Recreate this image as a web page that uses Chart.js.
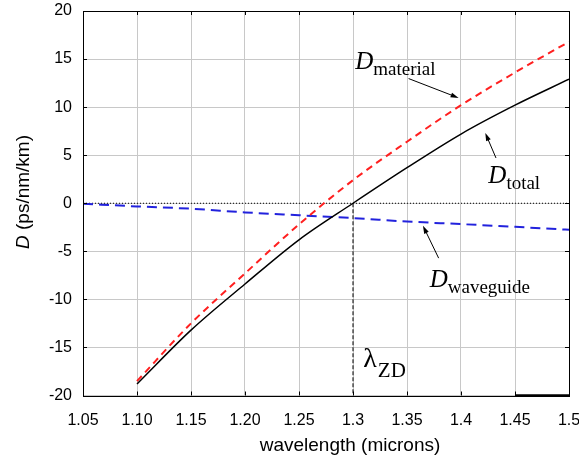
<!DOCTYPE html>
<html>
<head>
<meta charset="utf-8">
<script src="https://cdn.jsdelivr.net/npm/chart.js@4"></script>
<style>
html, body { margin: 0; padding: 0; background: #fff; }
</style>
</head>
<body>
<canvas id="dispChart" width="579" height="461"></canvas>
<script>
// wavelengths (microns) and dispersion values
let wavelengths = [1.10, 1.15, 1.20, 1.25, 1.30, 1.35, 1.40, 1.45, 1.50]
let dMaterial = [-18.5, -12.5, -7.3, -2.2, 2.4, 6.4, 10.2, 13.6, 16.8]
let dTotal = [-18.8, -13.2, -8.4, -3.8, 0, 3.7, 7.2, 10.2, 12.9]

let wgWavelengths = [1.05, 1.10, 1.15, 1.20, 1.25, 1.30, 1.35, 1.40, 1.45, 1.50]
let dWaveguide = [-0.05, -0.33, -0.57, -0.95, -1.25, -1.54, -1.9, -2.17, -2.45, -2.76]

let zeroX = [1.05, 1.5]
let zeroY = [0, 0]
let zdX = [1.30, 1.30]
let zdY = [0, -20]
let segX = [1.45, 1.5]
let segY = [-20, -20]

let xTickLabels = ['1.05', '1.10', '1.15', '1.20', '1.25', '1.3', '1.35', '1.4', '1.45', '1.5']

// text notes, placed in data units
let notes = [
    { x: 1.302, y: 14.0, sub: 'material' },
    { x: 1.4253, y: 2.1, sub: 'total' },
    { x: 1.371, y: -8.7, sub: 'waveguide' }
]
let arrows = [
    [1.3515, 12.97, 1.3978, 10.96],
    [1.4324, 4.71, 1.4225, 7.31],
    [1.3793, -5.71, 1.3648, -2.34]
]
let zdNote = { x: 1.3095, y: -17.0 }

function pts(xs, ys) {
    return xs.map(function (v, i) { return { x: v, y: ys[i] } })
}

let overlay = {
    id: 'overlay',
    afterDatasetsDraw(chart) {
        let ctx = chart.ctx
        let a = chart.chartArea
        let x = chart.scales.x
        let y = chart.scales.y
        ctx.save()

        // frame and inward ticks
        ctx.strokeStyle = '#000'
        ctx.lineWidth = 1
        ctx.strokeRect(Math.round(a.left) + 0.5, Math.round(a.top) + 0.5,
            Math.round(a.right - a.left), Math.round(a.bottom - a.top))
        ctx.beginPath()
        x.ticks.forEach(function (t) {
            let px = Math.round(x.getPixelForValue(t.value)) + 0.5
            ctx.moveTo(px, a.bottom); ctx.lineTo(px, a.bottom - 4)
            ctx.moveTo(px, a.top); ctx.lineTo(px, a.top + 4)
        })
        y.ticks.forEach(function (t) {
            let py = Math.round(y.getPixelForValue(t.value)) + 0.5
            ctx.moveTo(a.left, py); ctx.lineTo(a.left + 4, py)
            ctx.moveTo(a.right, py); ctx.lineTo(a.right - 4, py)
        })
        ctx.stroke()

        // arrows
        arrows.forEach(function (ar) {
            let x0 = x.getPixelForValue(ar[0]), y0 = y.getPixelForValue(ar[1])
            let x1 = x.getPixelForValue(ar[2]), y1 = y.getPixelForValue(ar[3])
            let ang = Math.atan2(y1 - y0, x1 - x0)
            ctx.beginPath()
            ctx.moveTo(x0, y0)
            ctx.lineTo(x1 - 6 * Math.cos(ang), y1 - 6 * Math.sin(ang))
            ctx.stroke()
            ctx.beginPath()
            ctx.moveTo(x1, y1)
            ctx.lineTo(x1 - 8 * Math.cos(ang) + 2.5 * Math.sin(ang), y1 - 8 * Math.sin(ang) - 2.5 * Math.cos(ang))
            ctx.lineTo(x1 - 8 * Math.cos(ang) - 2.5 * Math.sin(ang), y1 - 8 * Math.sin(ang) + 2.5 * Math.cos(ang))
            ctx.closePath()
            ctx.fillStyle = '#000'
            ctx.fill()
        })

        // D labels
        ctx.fillStyle = '#000'
        ctx.textBaseline = 'alphabetic'
        ctx.textAlign = 'left'
        notes.forEach(function (n) {
            let px = x.getPixelForValue(n.x), py = y.getPixelForValue(n.y)
            ctx.font = 'italic 25px "Liberation Serif"'
            ctx.fillText('D', px, py)
            let w = ctx.measureText('D').width
            ctx.font = '19px "Liberation Serif"'
            ctx.fillText(n.sub, px + w, py + 6)
        })
        let zx = x.getPixelForValue(zdNote.x), zy = y.getPixelForValue(zdNote.y)
        ctx.font = '28px "Liberation Serif"'
        ctx.fillText('\u03bb', zx, zy)
        let lw = ctx.measureText('\u03bb').width
        ctx.font = '21px "Liberation Serif"'
        ctx.fillText('ZD', zx + lw + 1, zy + 10)

        // axis titles
        ctx.font = '19px "Liberation Sans"'
        ctx.textAlign = 'center'
        ctx.textBaseline = 'middle'
        ctx.fillText('wavelength (microns)', 350, 446)

        ctx.translate(24, 192)
        ctx.rotate(-Math.PI / 2)
        ctx.textAlign = 'left'
        ctx.font = 'italic 19px "Liberation Sans"'
        let dW = ctx.measureText('D').width
        ctx.font = '19px "Liberation Sans"'
        let rest = ' (ps/nm/km)'
        let total = dW + ctx.measureText(rest).width
        ctx.font = 'italic 19px "Liberation Sans"'
        ctx.fillText('D', -total / 2, 0)
        ctx.font = '19px "Liberation Sans"'
        ctx.fillText(rest, -total / 2 + dW, 0)
        ctx.restore()
    }
}

let ctx = document.getElementById('dispChart').getContext('2d')
let chart = new Chart(ctx, {
    type: 'line',
    data: {
        datasets: [
            {
                label: 'D total',
                data: pts(wavelengths, dTotal),
                borderColor: '#000',
                borderWidth: 1.5,
                cubicInterpolationMode: 'monotone',
                pointRadius: 0
            },
            {
                label: 'D material',
                data: pts(wavelengths, dMaterial),
                borderColor: '#ff2020',
                borderWidth: 2,
                borderDash: [7, 5],
                cubicInterpolationMode: 'monotone',
                pointRadius: 0
            },
            {
                label: 'D waveguide',
                data: pts(wgWavelengths, dWaveguide),
                borderColor: '#2222dd',
                borderWidth: 2,
                borderDash: [10, 6],
                cubicInterpolationMode: 'monotone',
                pointRadius: 0
            },
            {
                label: 'zero',
                data: pts(zeroX, zeroY),
                borderColor: '#000',
                borderWidth: 1,
                borderDash: [1, 2],
                pointRadius: 0
            },
            {
                label: 'lambda ZD',
                data: pts(zdX, zdY),
                borderColor: '#000',
                borderWidth: 1,
                borderDash: [4, 2],
                pointRadius: 0
            },
            {
                label: 'seg',
                data: pts(segX, segY),
                borderColor: '#000',
                borderWidth: 2.5,
                pointRadius: 0,
                clip: false
            }
        ]
    },
    options: {
        responsive: false,
        animation: false,
        devicePixelRatio: 1,
        layout: { padding: { left: 0, right: 10, top: 11, bottom: 0 } },
        plugins: {
            legend: { display: false },
            tooltip: { enabled: false }
        },
        scales: {
            x: {
                type: 'linear',
                min: 1.05,
                max: 1.5,
                afterFit: function (s) {
                    s.height = 65.5
                    s.paddingLeft = 0
                    s.paddingRight = 0
                },
                ticks: {
                    stepSize: 0.05,
                    color: '#000',
                    padding: 15,
                    font: { family: '"Liberation Sans"', size: 16 },
                    callback: function (v, i) { return xTickLabels[i] }
                },
                grid: { color: '#c8c8c8', drawTicks: false },
                border: { display: false }
            },
            y: {
                min: -20,
                max: 20,
                afterFit: function (s) {
                    s.width = 83
                    s.paddingTop = 0
                    s.paddingBottom = 0
                },
                ticks: {
                    stepSize: 5,
                    color: '#000',
                    padding: 11,
                    font: { family: '"Liberation Sans"', size: 16 }
                },
                grid: { color: '#c8c8c8', drawTicks: false },
                border: { display: false }
            }
        }
    },
    plugins: [overlay]
})
</script>
</body>
</html>
